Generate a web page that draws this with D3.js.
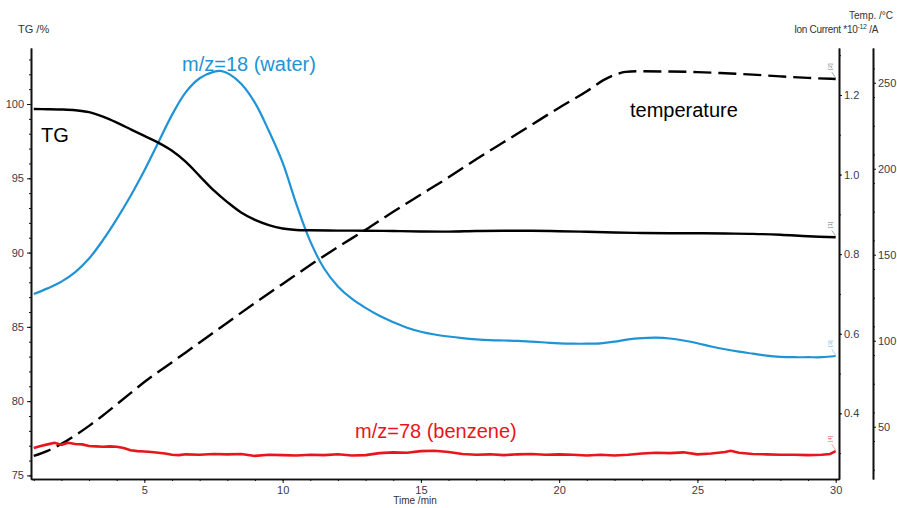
<!DOCTYPE html>
<html>
<head>
<meta charset="utf-8">
<script src="https://cdn.jsdelivr.net/npm/d3@7/dist/d3.min.js"></script>
<style>
  html, body { margin: 0; padding: 0; background: #fff; }
  svg { display: block; }
  .tick text { font-family: "Liberation Sans Narrow", "Liberation Sans", Arial, sans-serif; font-size: 11px; fill: #3a3a4a; }
  .domain, .tick line { stroke: #111; }
</style>
</head>
<body>
<svg id="chart" width="897" height="508"></svg>
<script>
// Time axis (min)
const xTicks = [5, 10, 15, 20, 25, 30];
const tgTicks = [75, 80, 85, 90, 95, 100];
const ionTicks = [0.4, 0.6, 0.8, 1.0, 1.2];
const tempTicks = [50, 100, 150, 200, 250];

// TG /% versus time
const tgTime = [1.0, 1.5, 2.0, 2.5, 3.0, 3.5, 4.0, 4.5, 5.0, 5.5, 6.0, 6.5, 7.0, 7.5, 8.0, 8.5, 9.0, 9.5, 10.0, 10.5, 11.0, 12.0, 13.0, 14.0, 15.0, 16.0, 17.0, 18.0, 19.0, 20.0, 21.0, 22.0, 23.0, 24.0, 25.0, 26.0, 27.0, 28.0, 29.0, 30.0];
const tgValue = [99.66, 99.65, 99.63, 99.58, 99.45, 99.15, 98.75, 98.3, 97.85, 97.4, 96.85, 96.1, 95.15, 94.2, 93.4, 92.7, 92.2, 91.85, 91.62, 91.52, 91.5, 91.48, 91.47, 91.45, 91.42, 91.41, 91.45, 91.47, 91.47, 91.44, 91.4, 91.35, 91.32, 91.3, 91.3, 91.28, 91.26, 91.2, 91.1, 91.03];

// Ion current m/z=18 (water), *10^-12 A
const waterTime = [1.0, 1.5, 2.0, 2.5, 3.0, 3.5, 4.0, 4.5, 5.0, 5.5, 6.0, 6.5, 7.0, 7.5, 7.8, 8.1, 8.5, 9.0, 9.5, 10.0, 10.5, 11.0, 11.5, 12.0, 12.5, 13.0, 13.5, 14.0, 14.5, 15.0, 15.5, 16.0, 16.5, 17.0, 17.5, 18.0, 18.5, 19.0, 19.5, 20.0, 20.5, 21.0, 21.5, 22.0, 22.5, 23.0, 23.5, 24.0, 24.5, 25.0, 25.5, 26.0, 26.5, 27.0, 27.5, 28.0, 28.5, 29.0, 29.5, 30.0];
const waterValue = [0.700, 0.714, 0.731, 0.755, 0.789, 0.835, 0.888, 0.946, 1.010, 1.080, 1.150, 1.207, 1.242, 1.258, 1.260, 1.251, 1.228, 1.180, 1.110, 1.030, 0.925, 0.832, 0.764, 0.719, 0.688, 0.665, 0.645, 0.629, 0.615, 0.605, 0.598, 0.593, 0.589, 0.586, 0.584, 0.583, 0.582, 0.580, 0.578, 0.576, 0.575, 0.575, 0.576, 0.580, 0.586, 0.589, 0.590, 0.588, 0.583, 0.576, 0.568, 0.561, 0.555, 0.550, 0.545, 0.542, 0.541, 0.541, 0.541, 0.544];

// Ion current m/z=78 (benzene), *10^-12 A
const benzeneTime = [1.0, 1.25, 1.5, 1.75, 2.0, 2.25, 2.5, 2.75, 3.0, 3.25, 3.5, 3.75, 4.0, 4.25, 4.5, 4.75, 5.0, 5.25, 5.5, 5.75, 6.0, 6.25, 6.5, 7.0, 7.5, 8.0, 8.5, 9.0, 9.5, 10.0, 10.5, 11.0, 11.5, 12.0, 12.5, 13.0, 13.5, 14.0, 14.5, 15.0, 15.5, 16.0, 16.5, 17.0, 17.5, 18.0, 18.5, 19.0, 19.5, 20.0, 20.5, 21.0, 21.5, 22.0, 22.5, 23.0, 23.5, 24.0, 24.5, 25.0, 25.5, 26.0, 26.2, 26.5, 27.0, 27.5, 28.0, 28.5, 29.0, 29.5, 29.8, 30.0];
const benzeneValue = [0.313, 0.318, 0.322, 0.326, 0.321, 0.326, 0.323, 0.322, 0.318, 0.317, 0.316, 0.317, 0.316, 0.313, 0.307, 0.305, 0.304, 0.303, 0.301, 0.299, 0.296, 0.295, 0.297, 0.296, 0.298, 0.297, 0.298, 0.293, 0.296, 0.295, 0.294, 0.296, 0.295, 0.297, 0.294, 0.295, 0.300, 0.302, 0.301, 0.305, 0.306, 0.303, 0.298, 0.296, 0.297, 0.295, 0.297, 0.298, 0.296, 0.297, 0.296, 0.294, 0.296, 0.294, 0.296, 0.299, 0.301, 0.300, 0.302, 0.297, 0.299, 0.303, 0.306, 0.301, 0.298, 0.297, 0.296, 0.296, 0.295, 0.296, 0.298, 0.305];

// Furnace temperature /°C
const tempTime = [1.0, 1.5, 2.0, 2.5, 3.0, 3.5, 4.0, 4.5, 5.0, 6.0, 7.0, 8.0, 9.0, 10.0, 11.0, 12.0, 13.0, 14.0, 15.0, 16.0, 17.0, 18.0, 19.0, 20.0, 21.0, 21.6, 22.0, 22.4, 22.8, 24.0, 25.0, 26.0, 27.0, 28.0, 29.0, 30.0];
const tempValue = [33, 36, 40, 45, 50.5, 56.5, 63, 69.5, 76, 87.5, 99, 110.5, 122, 133, 144, 154.5, 164.5, 175, 185, 195, 205.5, 215.5, 225.5, 235.5, 245, 251.5, 254.5, 256.3, 256.7, 256.5, 256.2, 255.5, 254.7, 253.7, 252.8, 252.2];

const svg = d3.select("#chart");
const plotLeft = 31, plotRight = 839, plotTop = 48, plotBottom = 479, tempAxisX = 873;

const x = d3.scaleLinear().domain([0.9, 30.12]).range([plotLeft, plotRight]);
const yTG = d3.scaleLinear().domain([74.76, 103.77]).range([plotBottom, plotTop]);
const yIon = d3.scaleLinear().domain([0.235, 1.318]).range([plotBottom, plotTop]);
const yTemp = d3.scaleLinear().domain([19.6, 270.2]).range([plotBottom, plotTop]);

const zip = (ts, vs) => ts.map((t, i) => [t, vs[i]]);

// ---- axes ----
function styleAxis(g) {
  g.select(".domain").attr("stroke-width", 1.6);
  g.selectAll(".tick line").attr("stroke-width", 1);
}

// x axis
svg.append("g").attr("transform", `translate(0,${plotBottom})`)
  .call(d3.axisBottom(x).tickValues(d3.range(1, 31, 1)).tickSize(2).tickSizeOuter(0).tickFormat(""))
  .call(styleAxis);
svg.append("g").attr("transform", `translate(0,${plotBottom})`)
  .call(d3.axisBottom(x).tickValues(xTicks).tickSize(4).tickSizeOuter(0).tickPadding(3).tickFormat(d3.format("d")))
  .call(styleAxis);

// TG axis (left)
svg.append("g").attr("transform", `translate(${plotLeft},0)`)
  .call(d3.axisLeft(yTG).tickValues(d3.range(75, 104, 1)).tickSize(2).tickSizeOuter(0).tickFormat(""))
  .call(styleAxis);
svg.append("g").attr("transform", `translate(${plotLeft},0)`)
  .call(d3.axisLeft(yTG).tickValues(tgTicks).tickSize(4).tickSizeOuter(0).tickPadding(3).tickFormat(d3.format("d")))
  .call(styleAxis);

// Ion current axis (first right)
svg.append("g").attr("transform", `translate(${plotRight},0)`)
  .call(d3.axisRight(yIon).tickValues(d3.range(0.3, 1.35, 0.1)).tickSize(2).tickSizeOuter(0).tickFormat(""))
  .call(styleAxis);
svg.append("g").attr("transform", `translate(${plotRight},0)`)
  .call(d3.axisRight(yIon).tickValues(ionTicks).tickSize(3).tickSizeOuter(0).tickPadding(2).tickFormat(d3.format(".1f")))
  .call(styleAxis);

// Temperature axis (second right)
svg.append("g").attr("transform", `translate(${tempAxisX},0)`)
  .call(d3.axisRight(yTemp).tickValues(d3.range(25, 270, 50 / 3)).tickSize(2).tickSizeOuter(0).tickFormat(""))
  .call(styleAxis);
svg.append("g").attr("transform", `translate(${tempAxisX},0)`)
  .call(d3.axisRight(yTemp).tickValues(tempTicks).tickSize(3).tickSizeOuter(0).tickPadding(2).tickFormat(d3.format("d")))
  .call(styleAxis);

// axis titles
const titleFont = '"Liberation Sans Narrow", "Liberation Sans", Arial, sans-serif';
svg.append("text").attr("x", 18).attr("y", 33).attr("font-family", titleFont).attr("font-size", 11).attr("fill", "#333").text("TG /%");
svg.append("text").attr("x", 893).attr("y", 19).attr("text-anchor", "end").attr("font-family", titleFont).attr("font-size", 10).attr("fill", "#333").text("Temp. /°C");
const ionTitle = svg.append("text").attr("x", 878).attr("y", 33).attr("text-anchor", "end").attr("font-family", titleFont).attr("font-size", 10).attr("letter-spacing", -0.3).attr("fill", "#333");
ionTitle.append("tspan").text("Ion Current *10");
ionTitle.append("tspan").attr("dy", -4).attr("font-size", 7).text("-12");
ionTitle.append("tspan").attr("dy", 4).text(" /A");
svg.append("text").attr("x", 415).attr("y", 504).attr("text-anchor", "middle").attr("font-family", titleFont).attr("font-size", 10).attr("fill", "#333").text("Time /min");

// ---- curves ----
const smoothGen = (ys) => d3.line().x(d => x(d[0])).y(d => ys(d[1])).curve(d3.curveCatmullRom.alpha(0.5));
const monoGen = (ys) => d3.line().x(d => x(d[0])).y(d => ys(d[1])).curve(d3.curveMonotoneX);
const linearGen = (ys) => d3.line().x(d => x(d[0])).y(d => ys(d[1])).curve(d3.curveLinear);

svg.append("path").datum(zip(tempTime, tempValue))
  .attr("d", monoGen(yTemp)).attr("fill", "none").attr("stroke", "#000")
  .attr("stroke-width", 2.4).attr("stroke-dasharray", "18,7");

svg.append("path").datum(zip(waterTime, waterValue))
  .attr("d", smoothGen(yIon)).attr("fill", "none").attr("stroke", "#1f93d6").attr("stroke-width", 2.2);

svg.append("path").datum(zip(tgTime, tgValue))
  .attr("d", smoothGen(yTG)).attr("fill", "none").attr("stroke", "#000").attr("stroke-width", 2.4);

svg.append("path").datum(zip(benzeneTime, benzeneValue))
  .attr("d", linearGen(yIon)).attr("fill", "none").attr("stroke", "#e8161b").attr("stroke-width", 2.6);

// end-of-curve segment markers
function endMarker(ts, vs, ys, color, label) {
  const px = x(ts[ts.length - 1]), py = ys(vs[vs.length - 1]);
  svg.append("line").attr("x1", px - 4).attr("y1", py - 7).attr("x2", px).attr("y2", py - 1)
    .attr("stroke", color).attr("stroke-width", 0.6);
  svg.append("text").attr("transform", `translate(${px - 4},${py - 9}) rotate(-90)`)
    .attr("font-family", titleFont).attr("font-size", 6).attr("fill", color).text(label);
}
endMarker(tempTime, tempValue, yTemp, "#777", "[2]");
endMarker(tgTime, tgValue, yTG, "#777", "[1]");
endMarker(waterTime, waterValue, yIon, "#6ab4e4", "[3]");
endMarker(benzeneTime, benzeneValue, yIon, "#e66", "[4]");

// ---- curve labels ----
const labelFont = '"Liberation Sans", Arial, sans-serif';
svg.append("text").attr("x", 182).attr("y", 71).attr("font-family", labelFont).attr("font-size", 20).attr("fill", "#1f93d6").text("m/z=18 (water)");
svg.append("text").attr("x", 41).attr("y", 142).attr("font-family", labelFont).attr("font-size", 20).attr("fill", "#000").text("TG");
svg.append("text").attr("x", 630).attr("y", 117).attr("font-family", labelFont).attr("font-size", 20).attr("fill", "#000").text("temperature");
svg.append("text").attr("x", 355).attr("y", 438).attr("font-family", labelFont).attr("font-size", 20).attr("fill", "#e8161b").text("m/z=78 (benzene)");
</script>
</body>
</html>
